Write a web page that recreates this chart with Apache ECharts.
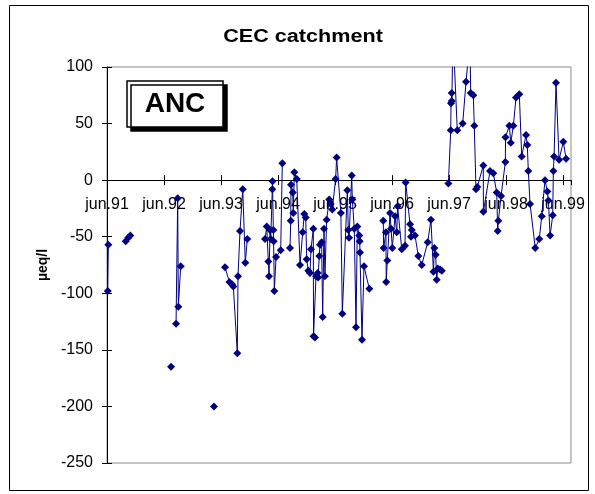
<!DOCTYPE html>
<html>
<head>
<meta charset="utf-8">
<script src="https://cdn.jsdelivr.net/npm/echarts@6/dist/echarts.min.js"></script>
<style>
html,body{margin:0;padding:0;background:#fff;}
#chart{width:595px;height:494px;}
</style>
</head>
<body>
<div id="chart"></div>
<script>
// Sampling time (decimal years) and ANC (µeq/l); null marks a break in the line
const sampleYear = [
  1991.43, 1991.44, null,
  1991.745, 1991.79, 1991.826, null,
  1992.54, null,
  1992.628, 1992.657, 1992.668, 1992.71, null,
  1993.294, null,
  1993.487, 1993.563, 1993.61, 1993.633, 1993.703, 1993.715, 1993.75, 1993.798, 1993.843, 1993.878, null,
  1994.189, 1994.219, 1994.247, 1994.259, 1994.277, 1994.289, 1994.317, 1994.32, 1994.335, 1994.34, 1994.352, 1994.382, 1994.464, 1994.492, null,
  1994.627, 1994.64, 1994.645, 1994.675, 1994.685, 1994.703, 1994.745, 1994.803, 1994.85, 1994.878, 1994.903, 1994.92, 1994.948, 1994.978, 1994.996,
  1995.036, 1995.04, 1995.066, 1995.083, 1995.113, 1995.12, 1995.141, 1995.153, 1995.182, 1995.2, 1995.223, 1995.24, 1995.27, 1995.316, 1995.34, 1995.368,
  1995.428, 1995.445, 1995.52, 1995.545, 1995.633, 1995.65, 1995.663, 1995.71, 1995.72, 1995.755, 1995.785, 1995.808, 1995.843, 1995.85, 1995.855, 1995.89, 1995.925, 1996.018, null,
  1996.263, 1996.27, 1996.31, 1996.315, 1996.334, 1996.382, 1996.4, 1996.422, 1996.47, 1996.5, 1996.515, 1996.587, 1996.645, 1996.657, 1996.733, 1996.75, 1996.763,
  1996.82, 1996.878, 1996.938, 1997.043, 1997.1, 1997.143, 1997.16, 1997.183, 1997.2, 1997.22, 1997.26, 1997.29, null,
  1997.405, 1997.447, 1997.452, 1997.464, 1997.466, 1997.487, 1997.562, 1997.657, 1997.715, 1997.785, 1997.797, 1997.843, 1997.86, 1997.89, 1997.913,
  1998.018, 1998.02, 1998.136, 1998.194, 1998.254, 1998.27, 1998.282, 1998.33, 1998.405, 1998.408, 1998.475, 1998.5, 1998.545, 1998.592, 1998.65, 1998.692,
  1998.768, 1998.79, 1998.808, 1998.838, 1998.93, 1999.0, 1999.043, 1999.1, 1999.142, 1999.16, 1999.19, 1999.236, 1999.247, 1999.26, 1999.294, 1999.347, 1999.422, 1999.47
];
const ancValue = [
  -98, -57, null,
  -54, -51, -49, null,
  -165, null,
  -127, -16, -112, -76, null,
  -200, null,
  -77, -90, -92, -94, -153, -85, -45, -8, -73, -52, null,
  -52, -41, -72, -85, -44, -52, -8, -1, -44, -54, -98, -68, -62, 15, null,
  -60, -36, -4, -11, -29, 7, 1, -75, -46, -30, -33, -70, -80, -82, -61,
  -43, -138, -139, -85, -82, -86, -67, -57, -55, -121, -43, -85, -35, -17, -21, -26,
  1, 20, -29, -118, -9, -44, -51, 4, -17, -43, -130, -41, -49, -54, -64, -141, -76, -96, null,
  -36, -60, -46, -90, -71, -29, -43, -60, -32, -46, -23, -61, -58, -2, -39, -50, -44,
  -49, -67, -75, -55, -35, -81, -60, -66, -88, -78, -79, -80, null,
  -3, 44, 68, 77, 70, 130, 44, 50, 87, 125, 77, 75, 48, -8, -6,
  13, -28, 8, 6, -11, -45, -36, -14, 16, 38, 48, 33, 48, 73, 76, 21,
  40, 31, 8, -21, -60, -52, -32, 0, -10, -18, -49, -31, 8, 21, 86, 18, 34, 19
];
const xTickLabels = ['jun.91','jun.92','jun.93','jun.94','jun.95','jun.96','jun.97','jun.98','jun.99'];
const yTicks = [-250, -200, -150, -100, -50, 0, 50, 100];

const ORIGIN = 1991 + 5/12; // jun.91
const seriesData = sampleYear.map((t, i) =>
  (t == null || ancValue[i] == null) ? ['-', '-'] : [t - ORIGIN, ancValue[i]]);

const FONT = "'Liberation Sans', Arial, sans-serif";
const X_MAX = 8.14;
const GRID = {left: 107, top: 67, right: 24, bottom: 31};
const plotH = 494 - GRID.top - GRID.bottom;
const plotW = 595 - GRID.left - GRID.right;
const yMin = yTicks[0], yMax = yTicks[yTicks.length - 1];
const zeroFromTop = plotH * yMax / (yMax - yMin);

const hiddenX = {type: 'value', min: 0, max: X_MAX, interval: 1, splitLine: {show: false}};
const chart = echarts.init(document.getElementById('chart'), null, {renderer: 'canvas'});
chart.setOption({
  animation: false,
  backgroundColor: '#fff',
  grid: Object.assign({show: true, borderColor: '#8c8c8c', borderWidth: 1}, GRID),
  xAxis: [
    // data axis (scale only)
    Object.assign({}, hiddenX, {position: 'bottom',
      axisLine: {show: false, onZero: false}, axisTick: {show: false}, axisLabel: {show: false}}),
    // axis drawn at y = 0: line, upward ticks, labels below
    Object.assign({}, hiddenX, {position: 'top', offset: -zeroFromTop,
      axisLine: {show: true, onZero: false, lineStyle: {color: '#000', width: 1}},
      axisTick: {show: true, length: 5, lineStyle: {color: '#000'}},
      axisLabel: {show: true, inside: true, color: '#000', fontFamily: FONT, fontSize: 16, margin: 16,
        showMaxLabel: false, showMinLabel: true,
        formatter: v => xTickLabels[Math.round(v)] || ''}}),
    // downward half of the crossing ticks at y = 0
    Object.assign({}, hiddenX, {position: 'bottom', offset: -(plotH - zeroFromTop),
      axisLine: {show: false, onZero: false},
      axisTick: {show: true, length: 5, lineStyle: {color: '#000'}},
      axisLabel: {show: false}})
  ],
  yAxis: [{
    type: 'value', min: yMin, max: yMax, interval: 50, position: 'left',
    name: 'µeq/l', nameLocation: 'middle', nameGap: 57, nameRotate: 90,
    nameTextStyle: {color: '#000', fontFamily: FONT, fontSize: 14, fontWeight: 'bold'},
    axisLine: {show: true, onZero: false, lineStyle: {color: '#000', width: 1}},
    axisTick: {show: true, length: 5, lineStyle: {color: '#000'}},
    axisLabel: {color: '#000', fontFamily: FONT, fontSize: 16, margin: 14},
    splitLine: {show: false}
  }, {
    type: 'value', min: yMin, max: yMax, interval: 50, position: 'right', offset: -plotW,
    axisLine: {show: false, onZero: false},
    axisTick: {show: true, length: 5, lineStyle: {color: '#000'}},
    axisLabel: {show: false},
    splitLine: {show: false}
  }],
  series: [{
    type: 'line',
    data: seriesData,
    xAxisIndex: 0, yAxisIndex: 0,
    symbol: 'diamond', symbolSize: 8,
    showAllSymbol: true,
    connectNulls: false,
    clip: true,
    itemStyle: {color: '#000080'},
    lineStyle: {color: '#000080', width: 1}
  }],
  graphic: [
    {type: 'rect', shape: {x: 9.5, y: 5.5, width: 579, height: 485}, style: {fill: 'none', stroke: '#000', lineWidth: 1}, silent: true, z: -1},
    {type: 'text', x: 303, y: 37, scaleX: 1.2, style: {text: 'CEC catchment', font: "bold 18px 'Liberation Sans', Arial, sans-serif", fill: '#000', textAlign: 'center', textVerticalAlign: 'middle'}},
    {type: 'rect', shape: {x: 127, y: 81, width: 96, height: 46},
      style: {fill: '#fff', stroke: '#000', lineWidth: 1.5, shadowColor: '#000', shadowOffsetX: 4, shadowOffsetY: 4, shadowBlur: 0}, z: 10},
    {type: 'text', x: 175, y: 104.5, z: 11, style: {text: 'ANC', font: "bold 28px 'Liberation Sans', Arial, sans-serif", fill: '#000', textAlign: 'center', textVerticalAlign: 'middle'}}
  ]
});
</script>
</body>
</html>
